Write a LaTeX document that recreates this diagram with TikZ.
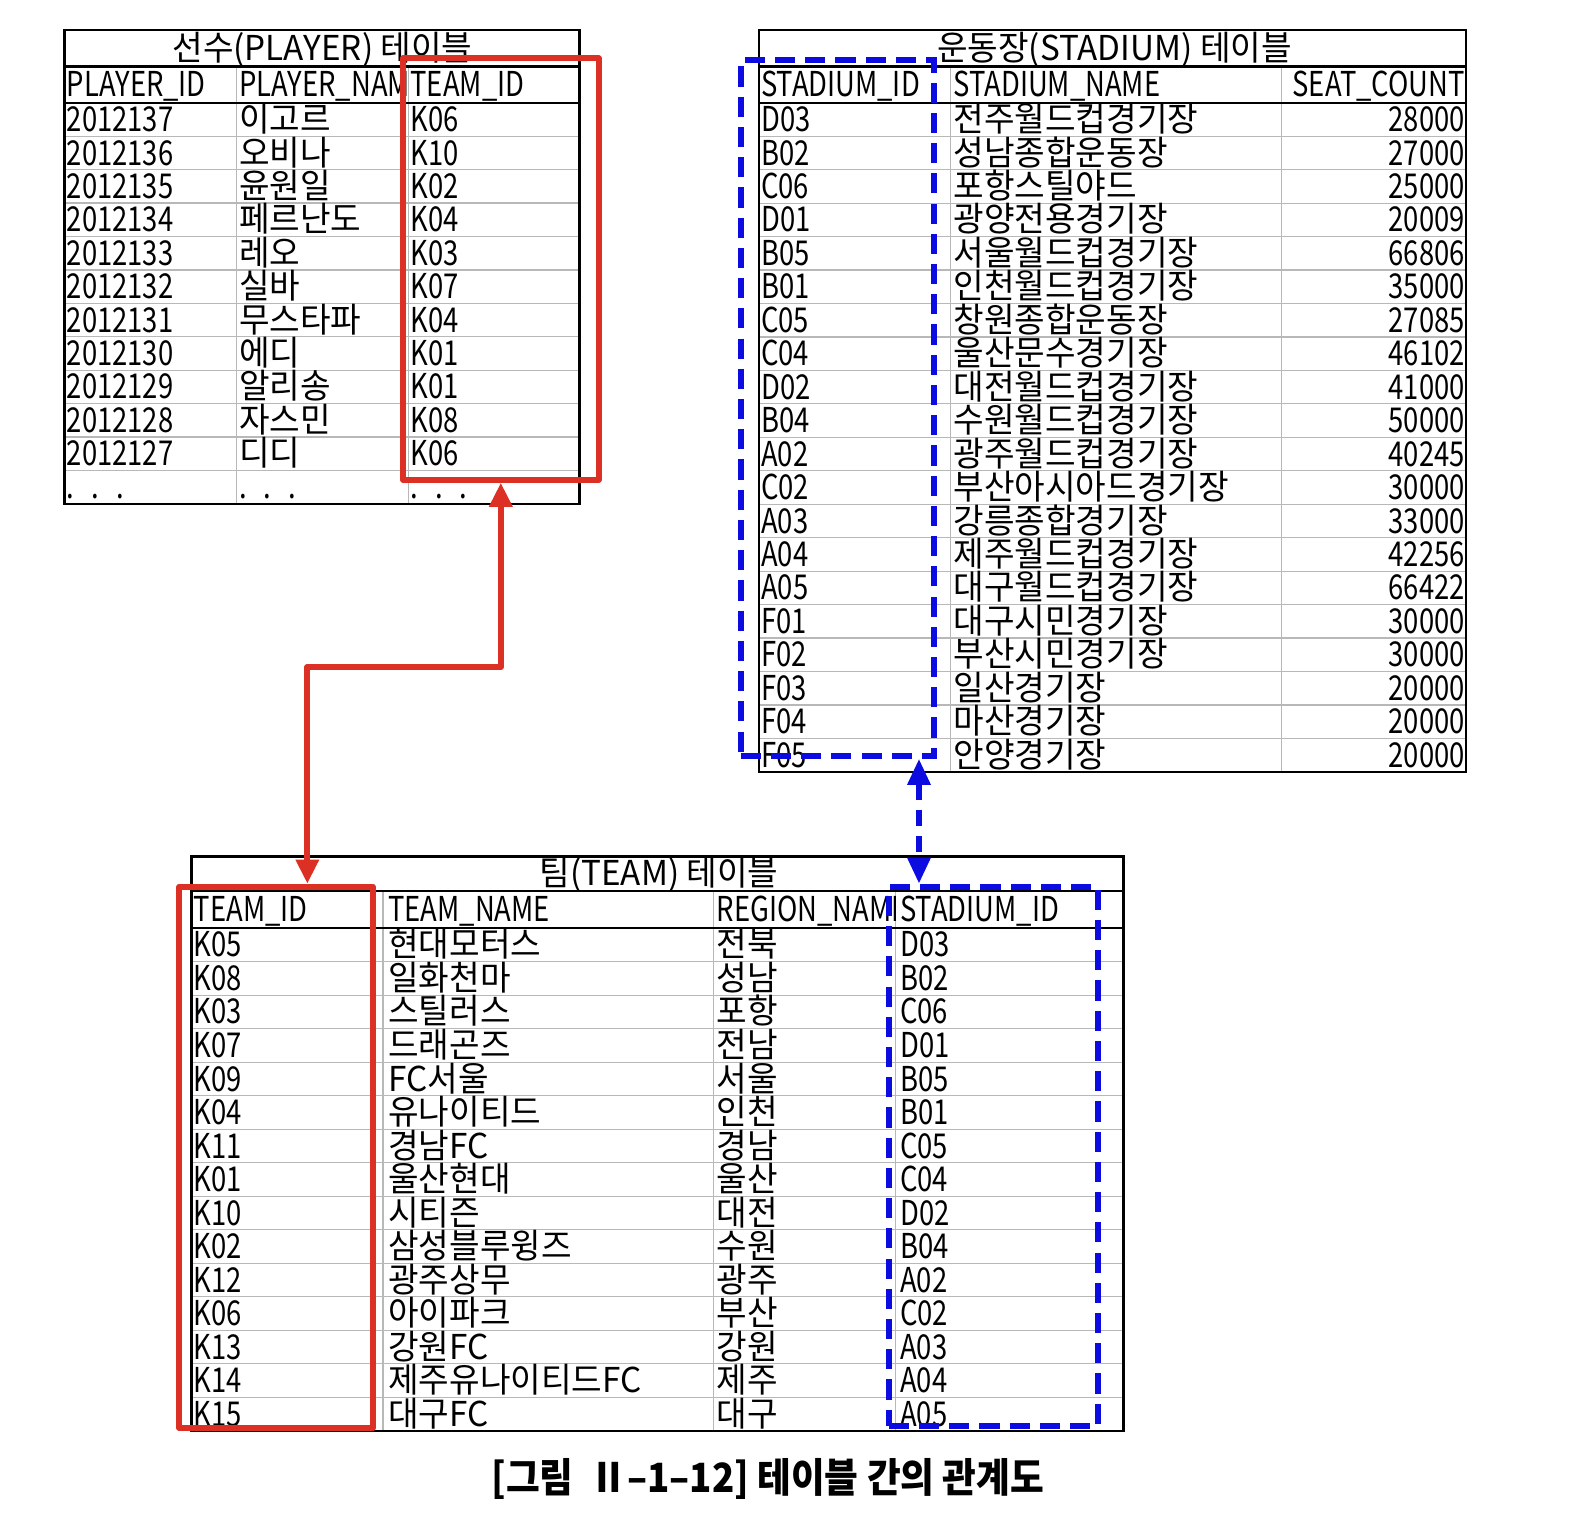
\documentclass[tikz,border=0pt]{standalone}
\usepackage{fontspec}
\setmainfont{Noto Sans CJK KR}[FakeStretch=0.8]
\newfontfamily\kr{Noto Sans CJK KR}[FakeStretch=0.97]
\newfontfamily\capfont{Noto Sans CJK KR}[FakeStretch=0.91]
\usetikzlibrary{arrows.meta,fit}
\definecolor{rd}{RGB}{220,48,36}
\definecolor{bl}{RGB}{12,12,225}
\tikzset{
  cell/.style={anchor=west, inner sep=0pt, text height=12pt, text depth=0pt, font=\fontsize{17}{17}\selectfont},
  kcell/.style={cell, font=\fontsize{17}{17}\selectfont\kr},
  rcell/.style={cell, anchor=east},
  ttl/.style={cell, anchor=center, font=\fontsize{17}{17}\selectfont\kr},
  gridline/.style={draw=black!28, line width=0.6pt},
  frame/.style={draw=black, line width=1.2pt},
  redbox/.style={draw=rd, line width=3pt, line join=round},
  bluebox/.style={draw=bl, line width=3pt, dash pattern=on 10pt off 5pt},
  redline/.style={draw=rd, line width=3pt, line join=round, {Triangle[length=12pt,width=11pt]}-{Triangle[length=12pt,width=11pt]}},
  blueline/.style={draw=bl, line width=3pt, dash pattern=on 8pt off 5pt, {Triangle[length=13pt,width=11pt]}-{Triangle[length=13pt,width=11pt]}}
}
\begin{document}
\begin{tikzpicture}[x=0.5pt,y=-0.5pt]
\path[use as bounding box, fill=white] (0,0) rectangle (1568,1508);

% ---------------- PLAYER table ----------------
\foreach \k in {1,...,11} \draw[gridline] (64,{102+\k*33.17}) -- (575,{102+\k*33.17});
\draw[gridline] (235,66) -- (235,500);
\draw[gridline] (405,66) -- (405,500);
\draw[frame] (64,30) rectangle (575,500);
\draw[frame] (64,66) -- (575,66);
\draw[frame] (64,102) -- (575,102);
\node[ttl] (ptitle) at (320,48) {선수(PLAYER) 테이블};
\node[cell] (ph1) at (66,84) {PLAYER\_ID};
\begin{scope}
\clip (235,66) rectangle (405,102);
\node[cell] (ph2) at (237,84) {PLAYER\_NAME};
\end{scope}
\node[cell] (ph3) at (407,84) {TEAM\_ID};
\foreach \a/\b/\c [count=\k] in {2012137/이고르/K06, 2012136/오비나/K10, 2012135/윤원일/K02, 2012134/페르난도/K04, 2012133/레오/K03, 2012132/실바/K07, 2012131/무스타파/K04, 2012130/에디/K01, 2012129/알리송/K01, 2012128/자스민/K08, 2012127/디디/K06} {
  \pgfmathsetmacro\yy{102+(\k-0.5)*33.17}
  \node[cell] (p\k-a) at (66,\yy) {\a};
  \node[kcell] (p\k-b) at (237,\yy) {\b};
  \node[cell] (p\k-c) at (407,\yy) {\c};
}
\node[cell] (pd1) at (66,483) {.\enspace.\enspace.};
\node[cell] (pd2) at (237,483) {.\enspace.\enspace.};
\node[cell] (pd3) at (407,483) {.\enspace.\enspace.};

% ---------------- STADIUM table ----------------
\foreach \k in {1,...,19} \draw[gridline] (753,{102+\k*33.2}) -- (1455,{102+\k*33.2});
\draw[gridline] (943,66) -- (943,766);
\draw[gridline] (1272,66) -- (1272,766);
\draw[frame] (753,30) rectangle (1455,766);
\draw[frame] (753,66) -- (1455,66);
\draw[frame] (753,102) -- (1455,102);
\node[ttl] (stitle) at (1106,48) {운동장(STADIUM) 테이블};
\node[cell] (sh1) at (755,84) {STADIUM\_ID};
\node[cell] (sh2) at (946,84) {STADIUM\_NAME};
\node[rcell] (sh3) at (1454,84) {SEAT\_COUNT};
\foreach \a/\b/\c [count=\k] in {D03/전주월드컵경기장/28000, B02/성남종합운동장/27000, C06/포항스틸야드/25000, D01/광양전용경기장/20009, B05/서울월드컵경기장/66806, B01/인천월드컵경기장/35000, C05/창원종합운동장/27085, C04/울산문수경기장/46102, D02/대전월드컵경기장/41000, B04/수원월드컵경기장/50000, A02/광주월드컵경기장/40245, C02/부산아시아드경기장/30000, A03/강릉종합경기장/33000, A04/제주월드컵경기장/42256, A05/대구월드컵경기장/66422, F01/대구시민경기장/30000, F02/부산시민경기장/30000, F03/일산경기장/20000, F04/마산경기장/20000, F05/안양경기장/20000} {
  \pgfmathsetmacro\yy{102+(\k-0.5)*33.2}
  \node[cell] (s\k-a) at (755,\yy) {\a};
  \node[kcell] (s\k-b) at (946,\yy) {\b};
  \node[rcell] (s\k-c) at (1454,\yy) {\c};
}

% ---------------- TEAM table ----------------
\foreach \k in {1,...,14} \draw[gridline] (190,{921+\k*33.27}) -- (1115,{921+\k*33.27});
\draw[gridline] (380,884) -- (380,1420);
\draw[gridline] (708,884) -- (708,1420);
\draw[gridline] (889,884) -- (889,1420);
\draw[frame] (190,850) rectangle (1115,1420);
\draw[frame] (190,884) -- (1115,884);
\draw[frame] (190,921) -- (1115,921);
\node[ttl] (ttitle) at (654,867) {팀(TEAM) 테이블};
\node[cell] (th1) at (192,902) {TEAM\_ID};
\node[cell] (th2) at (385,902) {TEAM\_NAME};
\begin{scope}
\clip (708,884) rectangle (889,921);
\node[cell] (th3) at (711,902) {REGION\_NAME};
\end{scope}
\node[cell] (th4) at (893,902) {STADIUM\_ID};
\foreach \a/\b/\c/\d [count=\k] in {K05/현대모터스/전북/D03, K08/일화천마/성남/B02, K03/스틸러스/포항/C06, K07/드래곤즈/전남/D01, K09/FC서울/서울/B05, K04/유나이티드/인천/B01, K11/경남FC/경남/C05, K01/울산현대/울산/C04, K10/시티즌/대전/D02, K02/삼성블루윙즈/수원/B04, K12/광주상무/광주/A02, K06/아이파크/부산/C02, K13/강원FC/강원/A03, K14/제주유나이티드FC/제주/A04, K15/대구FC/대구/A05} {
  \pgfmathsetmacro\yy{921+(\k-0.5)*33.27}
  \node[cell] (t\k-a) at (192,\yy) {\a};
  \node[kcell] (t\k-b) at (385,\yy) {\b};
  \node[kcell] (t\k-c) at (711,\yy) {\c};
  \node[cell] (t\k-d) at (893,\yy) {\d};
}

% ---------------- highlight boxes ----------------
\coordinate (pa) at (400,58);  \coordinate (pb) at (594,476);
\coordinate (ta) at (178,880); \coordinate (tb) at (370,1417);
\coordinate (sa) at (735,60);  \coordinate (sb) at (927,750);
\coordinate (ua) at (882,880); \coordinate (ub) at (1090,1415);
\node[fit=(pa)(pb), inner sep=0pt, redbox] (pbox) {};
\node[fit=(ta)(tb), inner sep=0pt, redbox] (tbox) {};
\node[fit=(sa)(sb), inner sep=0pt, bluebox] (sbox) {};
\node[fit=(ua)(ub), inner sep=0pt, bluebox] (ubox) {};

% ---------------- connectors ----------------
\coordinate (rbend) at (305,662);
\draw[redline] (pbox.south) -- (pbox.south |- rbend) -- (rbend) -- (rbend |- tbox.north);
\coordinate (bx) at (912,800);
\draw[blueline] (sbox.south -| bx) -- (ubox.north -| bx);

% ---------------- caption ----------------
\node[inner sep=0pt, font=\fontsize{20}{20}\selectfont\capfont\bfseries] (caption) at (762,1468) {[그림 \ Ⅱ–1–12] 테이블 간의 관계도};
\end{tikzpicture}
\end{document}
